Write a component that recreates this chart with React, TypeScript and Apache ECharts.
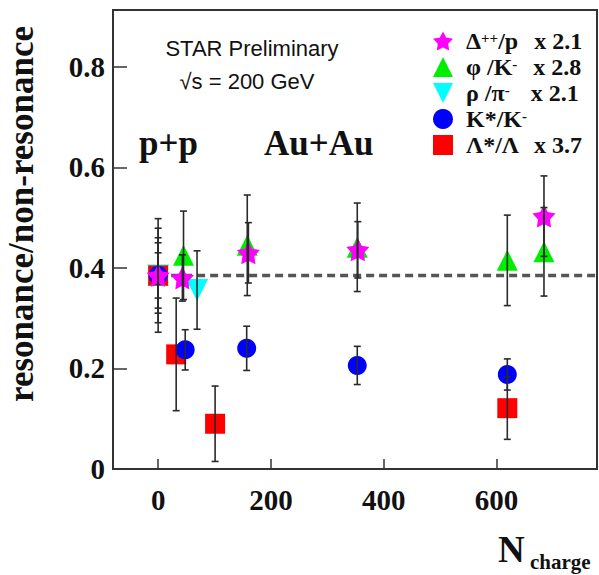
import React, { useEffect, useRef } from 'react';
import * as echarts from 'echarts';

// ---- data: [N_charge], ratio, error ----
const deltaX = [0, 43, 160, 354, 684];
const deltaY = [0.385, 0.38, 0.43, 0.436, 0.503];
const deltaErr = [0.113, 0.046, 0.06, 0.056, 0.08];

const phiX = [0, 45, 158, 353, 619, 684];
const phiY = [0.385, 0.425, 0.445, 0.441, 0.415, 0.432];
const phiErr = [0.094, 0.088, 0.1, 0.088, 0.09, 0.088];

const rhoX = [0, 69];
const rhoY = [0.385, 0.356];
const rhoErr = [0.065, 0.078];

const kstarX = [0, 48, 157, 353, 619];
const kstarY = [0.385, 0.237, 0.24, 0.206, 0.188];
const kstarErr = [0.045, 0.04, 0.044, 0.038, 0.031];

const lambdaX = [0, 32, 101, 619];
const lambdaY = [0.385, 0.228, 0.09, 0.121];
const lambdaErr = [0.075, 0.112, 0.075, 0.062];

const refLevel = 0.385;
const xTicks = [0, 200, 400, 600];
const yTicks = [0, 0.2, 0.4, 0.6, 0.8];

const names = ['Delta++/p', 'phi/K-', 'rho/pi-', 'K*/K-', 'Lambda*/Lambda'];
const legendLabels: Record<string, string> = {
  'Delta++/p': '{g|}{n|Δ}{s|++}{n|/p}{p1|}{n|x 2.1}',
  'phi/K-': '{g|}{n|φ /K}{s|-}{p2|}{n|x 2.8}',
  'rho/pi-': '{g|}{n|ρ /π}{s|-}{p3|}{n|x 2.1}',
  'K*/K-': '{g|}{n|K*/K}{s|-}',
  'Lambda*/Lambda': '{g|}{n|Λ*/Λ}{p5|}{n|x 3.7}',
};

const STAR =
  'path://M50,0 L65.3,28.9 L97.55,34.55 L74.7,58.1 L79.39,90.45 L50,76.2 L20.61,90.45 L25.3,58.1 L2.45,34.55 L34.7,28.9 Z';
const INV_TRI = 'path://M0,0 L100,0 L50,100 Z';

const SERIF = '"Liberation Serif", "Times New Roman", serif';
const SANS = '"Liberation Sans", Arial, sans-serif';

const zip = (xs: number[], ys: number[]) => xs.map((x, i) => [x, ys[i]]);
const zip3 = (xs: number[], ys: number[], es: number[]) => xs.map((x, i) => [x, ys[i], es[i]]);

function errSeries(xs: number[], ys: number[], es: number[]) {
  return {
    type: 'custom',
    z: 10,
    silent: true,
    data: zip3(xs, ys, es),
    encode: { x: 0, y: 1 },
    renderItem: (params: any, api: any) => {
      const x = api.value(0);
      const y = api.value(1);
      const e = api.value(2);
      const t = api.coord([x, y + e]);
      const b = api.coord([x, y - e]);
      const st = { stroke: '#2a2a2a', lineWidth: 1.6 };
      return {
        type: 'group',
        children: [
          { type: 'line', shape: { x1: t[0], y1: t[1], x2: b[0], y2: b[1] }, style: st },
          { type: 'line', shape: { x1: t[0] - 3.5, y1: t[1], x2: t[0] + 3.5, y2: t[1] }, style: st },
          { type: 'line', shape: { x1: b[0] - 3.5, y1: b[1], x2: b[0] + 3.5, y2: b[1] }, style: st },
        ],
      };
    },
  };
}

export default function App() {
  const ref = useRef<HTMLDivElement>(null);
  useEffect(() => {
    if (!ref.current) return;
    const chart = echarts.init(ref.current, null, { renderer: 'svg' });
    const option: any = {
      animation: false,
      backgroundColor: '#ffffff',
      grid: {
        left: 113,
        right: 2,
        top: 10,
        bottom: 106,
        show: true,
        borderColor: '#333',
        borderWidth: 2,
      },
      xAxis: {
        type: 'value',
        min: -80,
        max: 778,
        splitLine: { show: false },
        axisLine: { show: true, onZero: false, lineStyle: { color: '#333', width: 2 } },
        axisTick: { show: true, inside: true, length: 10, customValues: xTicks, lineStyle: { color: '#333', width: 1.5 } },
        axisLabel: {
          customValues: xTicks,
          margin: 16,
          color: '#111',
          fontFamily: SERIF,
          fontWeight: 'bold',
          fontSize: 29,
        },
      },
      yAxis: {
        type: 'value',
        min: 0,
        max: 0.913,
        splitLine: { show: false },
        axisLine: { show: true, onZero: false, lineStyle: { color: '#333', width: 2 } },
        axisTick: { show: true, inside: true, length: 14, customValues: yTicks, lineStyle: { color: '#333', width: 1.5 } },
        axisLabel: {
          customValues: yTicks,
          margin: 8,
          color: '#111',
          fontFamily: SERIF,
          fontWeight: 'bold',
          fontSize: 29,
          formatter: (v: number) => (v === 0 ? '0' : v.toFixed(1)),
        },
      },
      legend: {
        orient: 'vertical',
        left: 428,
        top: 24,
        itemWidth: 20,
        itemHeight: 20,
        itemGap: 2,
        selectedMode: false,
        data: [
          { name: names[0], icon: STAR, itemStyle: { color: '#ff00ff' } },
          { name: names[1], icon: 'triangle', itemStyle: { color: '#00ee00' } },
          { name: names[2], icon: INV_TRI, itemStyle: { color: '#00ffff' } },
          { name: names[3], icon: 'circle', itemStyle: { color: '#0000ff' } },
          { name: names[4], icon: 'rect', itemStyle: { color: '#ff0000' } },
        ],
        formatter: (n: string) => legendLabels[n],
        textStyle: {
          color: '#111',
          fontFamily: SERIF,
          fontWeight: 'bold',
          fontSize: 24,
          lineHeight: 22,
          rich: {
            n: { fontFamily: SERIF, fontWeight: 'bold', fontSize: 24, lineHeight: 22, color: '#111' },
            s: { fontFamily: SERIF, fontWeight: 'bold', fontSize: 15, lineHeight: 12, verticalAlign: 'top', color: '#111' },
            g: { width: 8 },
            p1: { width: 16 },
            p2: { width: 16 },
            p3: { width: 21 },
            p5: { width: 15 },
          },
        },
      },
      graphic: [
        {
          type: 'text',
          x: 21,
          y: 214,
          rotation: Math.PI / 2,
          style: {
            text: 'resonance/non-resonance',
            fontFamily: SERIF,
            fontWeight: 'bold',
            fontSize: 35,
            fill: '#111',
            textAlign: 'center',
            textVerticalAlign: 'middle',
          },
        },
        {
          type: 'text',
          x: 252,
          y: 48,
          style: { text: 'STAR Preliminary', fontFamily: SANS, fontSize: 22, fill: '#111', textAlign: 'center', textVerticalAlign: 'middle' },
        },
        {
          type: 'text',
          x: 247,
          y: 81,
          style: { text: '√s = 200 GeV', fontFamily: SANS, fontSize: 22, fill: '#111', textAlign: 'center', textVerticalAlign: 'middle' },
        },
        {
          type: 'text',
          x: 139,
          y: 143,
          style: { text: 'p+p', fontFamily: SERIF, fontWeight: 'bold', fontSize: 35, fill: '#111', textAlign: 'left', textVerticalAlign: 'middle' },
        },
        {
          type: 'text',
          x: 264,
          y: 143,
          style: { text: 'Au+Au', fontFamily: SERIF, fontWeight: 'bold', fontSize: 35, fill: '#111', textAlign: 'left', textVerticalAlign: 'middle' },
        },
        {
          type: 'text',
          x: 498,
          y: 549,
          style: { text: 'N', fontFamily: SERIF, fontWeight: 'bold', fontSize: 37, fill: '#111', textAlign: 'left', textVerticalAlign: 'middle' },
        },
        {
          type: 'text',
          x: 530,
          y: 562,
          style: { text: 'charge', fontFamily: SERIF, fontWeight: 'bold', fontSize: 21, fill: '#111', textAlign: 'left', textVerticalAlign: 'middle' },
        },
      ],
      series: [
        {
          name: 'reference',
          type: 'line',
          data: [[0, refLevel], [778, refLevel]],
          symbol: 'none',
          z: 1,
          silent: true,
          lineStyle: { color: '#555', width: 3.5, type: [8, 5] },
        },
        {
          name: names[1],
          type: 'scatter',
          z: 3,
          symbol: 'triangle',
          symbolSize: 21,
          itemStyle: { color: '#00ee00', opacity: 1 },
          data: zip(phiX, phiY),
        },
        {
          name: names[2],
          type: 'scatter',
          z: 4,
          symbol: INV_TRI,
          symbolSize: 22,
          itemStyle: { color: '#00ffff', opacity: 1 },
          data: zip(rhoX, rhoY),
        },
        {
          name: names[4],
          type: 'scatter',
          z: 5,
          symbol: 'rect',
          symbolSize: 20,
          itemStyle: { color: '#ff0000', opacity: 1 },
          data: zip(lambdaX, lambdaY),
        },
        {
          name: names[3],
          type: 'scatter',
          z: 6,
          symbol: 'circle',
          symbolSize: 19,
          itemStyle: { color: '#0000ff', opacity: 1 },
          data: zip(kstarX, kstarY),
        },
        {
          name: names[0],
          type: 'scatter',
          z: 7,
          symbol: STAR,
          symbolSize: 23,
          itemStyle: { color: '#ff00ff', opacity: 1 },
          data: zip(deltaX, deltaY),
        },
        errSeries(deltaX, deltaY, deltaErr),
        errSeries(phiX, phiY, phiErr),
        errSeries(rhoX, rhoY, rhoErr),
        errSeries(kstarX, kstarY, kstarErr),
        errSeries(lambdaX, lambdaY, lambdaErr),
      ],
    };
    chart.setOption(option);
    return () => chart.dispose();
  }, []);
  return <div ref={ref} style={{ width: 599, height: 575, position: 'absolute', left: 0, top: 0 }} />;
}
